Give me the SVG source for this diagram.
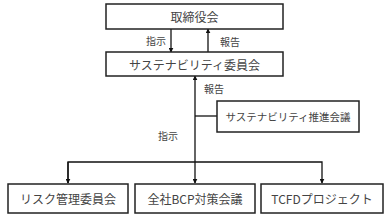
<svg xmlns="http://www.w3.org/2000/svg" width="389" height="218" viewBox="0 0 389 218">
<style>
.box{fill:#fff;stroke:#222;stroke-width:1.5}
.t{font-family:"Noto Sans CJK JP","Noto Sans",sans-serif;fill:#444;text-anchor:middle;dominant-baseline:central}
.n{font-size:12px}
.s{font-size:10.5px}
.l{font-size:10px}
.c{stroke:#111;stroke-width:1.3;fill:none}
</style>
<defs>
<marker id="ah" viewBox="0 0 8 8" refX="7" refY="4" markerWidth="5" markerHeight="5" markerUnits="userSpaceOnUse" orient="auto">
<path d="M0,0 L8,4 L0,8 z" fill="#111"/>
</marker>
</defs>
<rect x="0" y="0" width="389" height="218" fill="#fff"/>
<g id="connectors">
<line class="c" x1="171" y1="29" x2="171" y2="52" marker-end="url(#ah)"/>
<line class="c" x1="208" y1="52" x2="208" y2="29" marker-end="url(#ah)"/>
<line class="c" x1="195" y1="162" x2="195" y2="76" marker-end="url(#ah)"/>
<line class="c" x1="195" y1="116" x2="217" y2="116"/>
<polyline class="c" points="68,183 68,162 322,162 322,183" marker-end="url(#ah)"/>
<line class="c" x1="68" y1="162" x2="68" y2="183" marker-end="url(#ah)"/>
<line class="c" x1="195" y1="162" x2="195" y2="183" marker-end="url(#ah)"/>
<text class="t l" x="156" y="40">指示</text>
<text class="t l" x="230" y="41">報告</text>
<text class="t l" x="214" y="88">報告</text>
<text class="t l" x="168" y="135">指示</text>
</g>
<g id="board">
<rect class="box" x="106" y="4" width="177" height="25"/>
<text class="t n" x="194.5" y="16.5">取締役会</text>
</g>
<g id="sustainability-committee">
<rect class="box" x="106" y="52" width="177" height="24"/>
<text class="t n" x="194.5" y="64">サステナビリティ委員会</text>
</g>
<g id="promotion-council">
<rect class="box" x="217" y="101" width="142" height="31"/>
<text class="t s" x="288" y="116.5">サステナビリティ推進会議</text>
</g>
<g id="risk-committee">
<rect class="box" x="8" y="184" width="120" height="29"/>
<text class="t n" x="68" y="198.5">リスク管理委員会</text>
</g>
<g id="bcp-council">
<rect class="box" x="135" y="184" width="120" height="29"/>
<text class="t n" x="195" y="198.5">全社BCP対策会議</text>
</g>
<g id="tcfd-project">
<rect class="box" x="261" y="184" width="122" height="29"/>
<text class="t n" x="322" y="198.5">TCFDプロジェクト</text>
</g>
</svg>
